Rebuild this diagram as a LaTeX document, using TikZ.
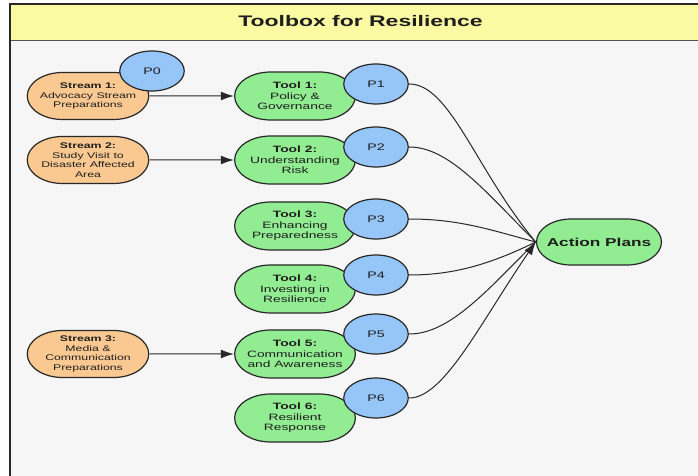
\documentclass[tikz,border=0pt]{standalone}
\usepackage{fontspec}
\setmainfont{Liberation Sans}
\usetikzlibrary{shapes.misc,shapes.geometric,arrows.meta}
\definecolor{streamfill}{RGB}{250,201,145}
\definecolor{toolfill}{RGB}{146,236,146}
\definecolor{pfill}{RGB}{150,198,248}
\definecolor{titlefill}{RGB}{250,250,162}
\definecolor{bodyfill}{RGB}{246,246,246}
\definecolor{edge}{RGB}{40,40,40}
\definecolor{ink}{RGB}{30,30,30}
\begin{document}
\begin{tikzpicture}[x=0.666667pt,y=-1pt,xscale=1.5,transform shape,
  stream/.style={rounded rectangle, draw=edge, line width=1.2pt, fill=streamfill,
    minimum width=83pt, minimum height=47pt, inner sep=1pt, align=center, text=ink,
    font=\fontsize{8.2}{9.5}\selectfont},
  tool/.style={rounded rectangle, draw=edge, line width=1.2pt, fill=toolfill,
    minimum width=82.5pt, minimum height=48pt, inner sep=1pt, align=center, text=ink,
    font=\fontsize{9.2}{10.4}\selectfont},
  pnode/.style={ellipse, draw=edge, line width=1.2pt, fill=pfill,
    minimum width=43pt, minimum height=40pt, inner sep=0pt, text=ink,
    font=\fontsize{9.5}{11}\selectfont},
  action/.style={rounded rectangle, draw=edge, line width=1.2pt, fill=toolfill,
    minimum width=85.3pt, minimum height=46pt, inner sep=1pt, text=ink,
    font=\fontsize{11.5}{13}\selectfont\bfseries},
  link/.style={draw=edge, line width=1pt, -{Latex[length=13pt,width=9pt]}},
  feed/.style={draw=edge, line width=1pt}
]
\useasboundingbox (0,0) rectangle (698,476);
\fill[white] (0,0) rectangle (698,476);
% frame
\fill[bodyfill] (10,41) rectangle (698,476);
\fill[titlefill] (10,4) rectangle (698,41);
\draw[edge!80, line width=1pt] (10,41) -- (698,41);
\draw[edge, line width=1.4pt] (10,476) -- (10,4) -- (698,4);
\node[text=ink, font=\fontsize{15.3}{17}\selectfont\bfseries] (title) at (360.5,21) {Toolbox for Resilience};

% streams
\node[stream] (s1) at (88,96) {\textbf{Stream 1:}\\Advocacy Stream\\Preparations};
\node[stream] (s2) at (88,160) {\textbf{Stream 2:}\\Study Visit to\\Disaster Affected\\Area};
\node[stream] (s3) at (88,354) {\textbf{Stream 3:}\\Media \&\\Communication\\Preparations};

% tools
\node[tool] (t1) at (295,96) {\textbf{Tool 1:}\\Policy \&\\Governance};
\node[tool] (t2) at (295,160) {\textbf{Tool 2:}\\Understanding\\Risk};
\node[tool] (t3) at (295,226) {\textbf{Tool 3:}\\Enhancing\\Preparedness};
\node[tool] (t4) at (295,289) {\textbf{Tool 4:}\\Investing in\\Resilience};
\node[tool] (t5) at (295,354) {\textbf{Tool 5:}\\Communication\\and Awareness};
\node[tool] (t6) at (295,418) {\textbf{Tool 6:}\\Resilient\\Response};

\node[action] (ap) at (599,242) {Action Plans};

% stream arrows
\draw[link] (s1) -- (t1);
\draw[link] (s2) -- (t2);
\draw[link] (s3) -- (t5);

% P nodes
\node[pnode] (p0) at (152,71) {P0};
\node[pnode] (p1) at (376,84) {P1};
\node[pnode] (p2) at (376,147) {P2};
\node[pnode] (p3) at (376,219) {P3};
\node[pnode] (p4) at (376,275) {P4};
\node[pnode] (p5) at (376,334) {P5};
\node[pnode] (p6) at (376,398) {P6};

% curves to action plans
\draw[feed] (p1.east) .. controls +(41,0) and +(-60,-72) .. (ap.west);
\draw[feed] (p2.east) .. controls +(40,0) and +(-50,-50) .. (ap.west);
\draw[feed] (p3.east) .. controls +(50,0) and +(-45,-12) .. (ap.west);
\draw[feed] (p4.east) .. controls +(45,0) and +(-45,22) .. (ap.west);
\draw[feed] (p5.east) .. controls +(40,0) and +(-50,50) .. (ap.west);
\draw[link] (p6.east) .. controls +(35,0) and +(-55,80) .. (ap.west);
\end{tikzpicture}
\end{document}
